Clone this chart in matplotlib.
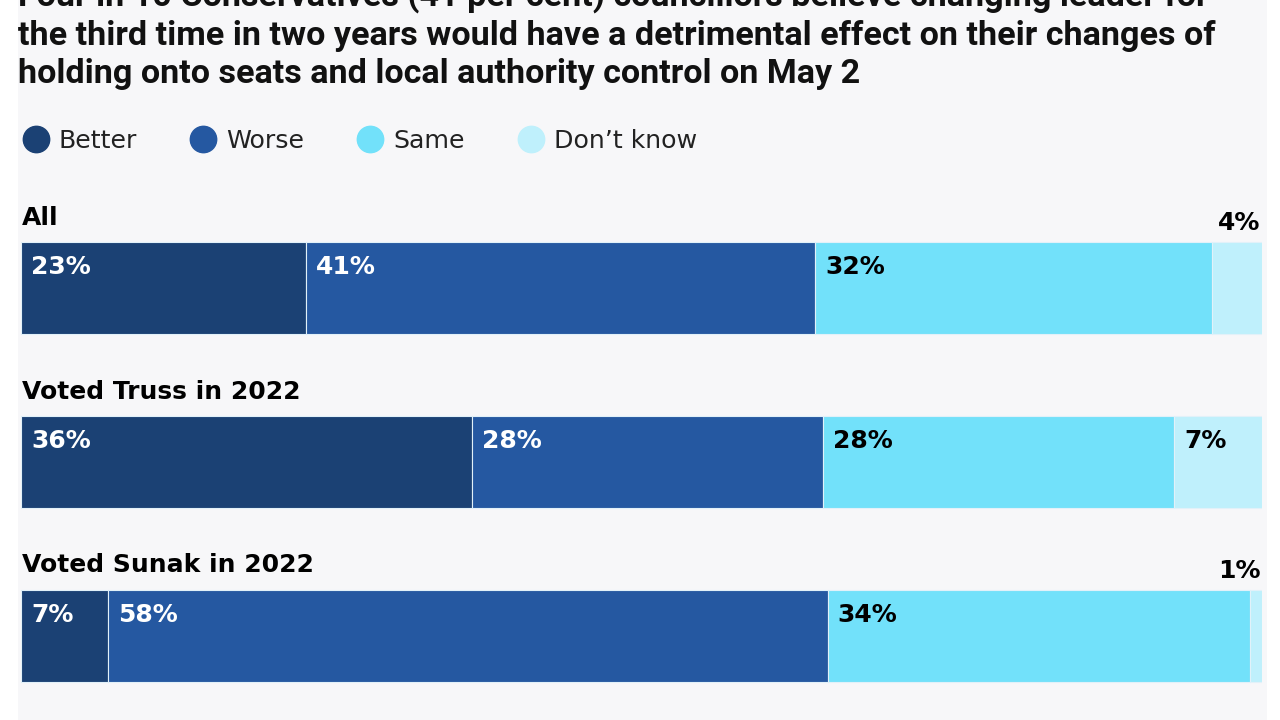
import numpy as np
import matplotlib.pyplot as plt
from matplotlib.patches import Rectangle
from matplotlib.lines import Line2D

# data
groups = ["All", "Voted Truss in 2022", "Voted Sunak in 2022"]
answers = ["Better", "Worse", "Same", "Don\u2019t know"]
better = [23, 36, 7]
worse = [41, 28, 58]
same = [32, 28, 34]
dont_know = [4, 7, 1]
colors = ["#1b4174", "#2558a1", "#72e1fa", "#bff0fc"]
txt_colors = ["white", "white", "black", "black"]

title_lines = [
    "Four in 10 Conservatives (41 per cent) councillors believe changing leader for",
    "the third time in two years would have a detrimental effect on their changes of",
    "holding onto seats and local authority control on May 2",
]

W, H = 1280, 720
fig = plt.figure(figsize=(12.8, 7.2), dpi=100)
fig.patch.set_facecolor("white")
fig.patches.append(Rectangle((18 / W, 0), 1249 / W, 1, transform=fig.transFigure,
                             facecolor="#f7f7f9", edgecolor="none", zorder=-10))

title_font = ["Roboto", "DejaVu Sans"]
titles = []
for k, line in enumerate(title_lines):
    t = fig.text(18 / W, 1 - (6 + 38.5 * k) / H, line, fontsize=20, fontweight="bold",
                 family=title_font, va="baseline", ha="left", color="#111111")
    titles.append(t)
# fit second line to the reference width (~1195 px)
r = fig.canvas.get_renderer()
w2 = titles[1].get_window_extent(renderer=r).width
for t in titles:
    t.set_fontsize(20 * 1195 / w2)

# legend
handles = [Line2D([], [], marker="o", linestyle="none", markersize=19,
                  markerfacecolor=c, markeredgecolor=c) for c in colors]
leg = fig.legend(handles, answers, loc="center left", bbox_to_anchor=(23 / W, 1 - 141 / H),
                 ncol=4, frameon=False, fontsize=18.2, handletextpad=0.4,
                 columnspacing=2.13, handlelength=1.0, borderaxespad=0, borderpad=0)
for t in leg.get_texts():
    t.set_color("#222222")

# bars
ax = fig.add_axes([21 / W, 1 - 700 / H, 1241 / W, 500 / H])
ax.set_facecolor("none")
spacing = 173.5
ax.set_ylim((700 - 288.5) / spacing, (200 - 288.5) / spacing)
ax.set_xlim(0, 100)
ax.axis("off")

lab_font = ["DejaVu Sans"]
data = np.array([better, worse, same, dont_know], dtype=float)
totals = data.sum(axis=0)
bh = 92 / spacing
left = np.zeros(len(groups))
for j in range(len(answers)):
    widths = data[j] / totals * 100
    ax.barh(np.arange(len(groups)), widths, left=left, height=bh, color=colors[j],
            edgecolor="#e2f1f9", linewidth=0.8)
    for i in range(len(groups)):
        val = data[j][i]
        lab = "%d%%" % val
        if val < 5:
            ax.text(left[i] + widths[i] - 0.1, i - bh / 2 - 19 / spacing, lab, ha="right",
                    va="center", fontsize=18, fontweight="bold", color="black",
                    family=lab_font)
        else:
            ax.text(left[i] + 0.8, i - bh / 2 + 25 / spacing, lab, ha="left", va="center",
                    fontsize=18, fontweight="bold", color=txt_colors[j],
                    family=lab_font)
    left = left + widths

for i, g in enumerate(groups):
    ax.text(0.1, i - bh / 2 - 17 / spacing, g, ha="left", va="baseline", fontsize=18,
            fontweight="bold", color="black", family=lab_font)

fig.savefig("out.png", dpi=100)
